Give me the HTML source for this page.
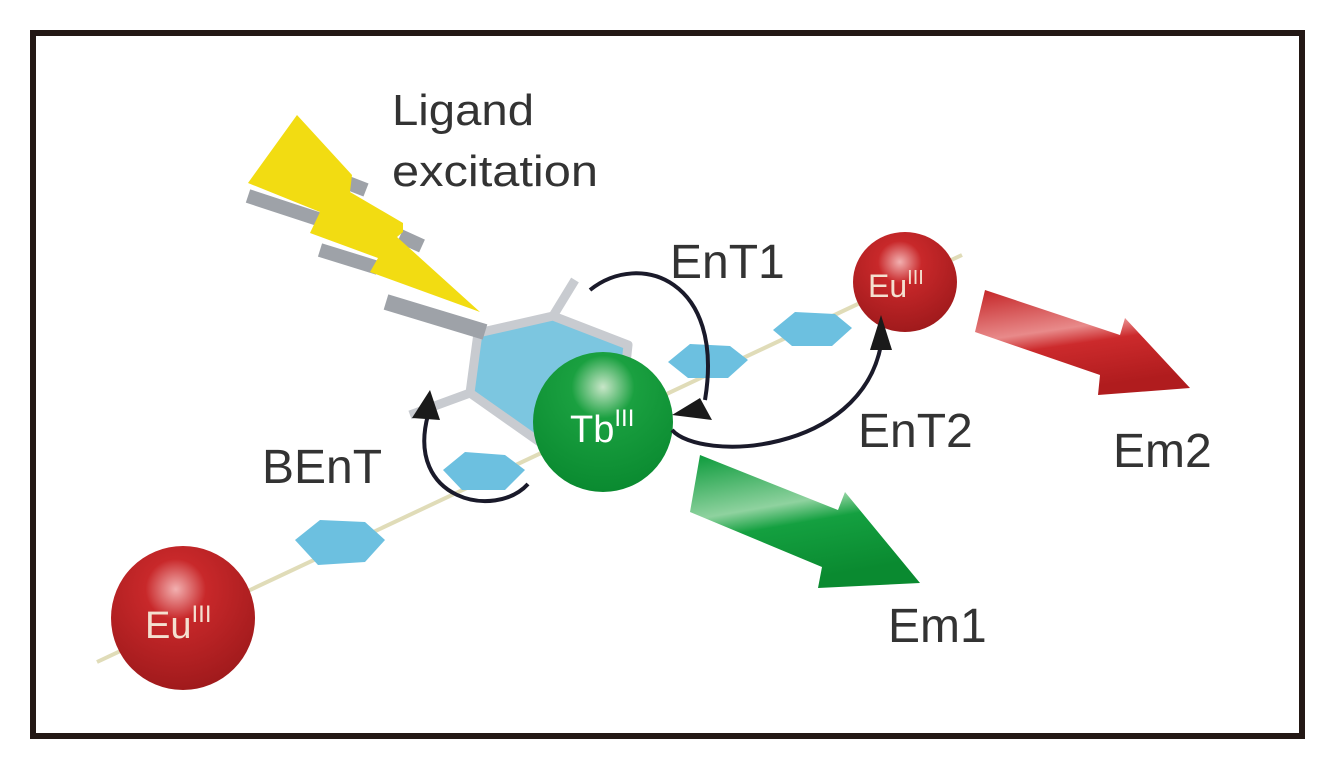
<!DOCTYPE html>
<html><head><meta charset="utf-8"><style>
html,body{margin:0;padding:0;background:#fff;}
svg{display:block;}
text{font-family:"Liberation Sans",sans-serif;fill:#333;}
</style></head><body>
<svg width="1335" height="769" viewBox="0 0 1335 769" xmlns="http://www.w3.org/2000/svg">
<defs>
<radialGradient id="gr" cx="0.45" cy="0.3" r="0.7">
<stop offset="0" stop-color="#f2b0b0"/><stop offset="0.3" stop-color="#c8282a"/><stop offset="1" stop-color="#a01a1c"/></radialGradient>
<radialGradient id="gg" cx="0.5" cy="0.25" r="0.75">
<stop offset="0" stop-color="#c8e6c8"/><stop offset="0.3" stop-color="#1aa040"/><stop offset="1" stop-color="#0a8a30"/></radialGradient>
<linearGradient id="ag" x1="0" y1="0" x2="0.3" y2="1">
<stop offset="0" stop-color="#0a9a3a"/><stop offset="0.45" stop-color="#8fd29f"/><stop offset="0.6" stop-color="#14a040"/><stop offset="1" stop-color="#0a8a30"/></linearGradient>
<linearGradient id="ar" x1="0" y1="0" x2="0.3" y2="1">
<stop offset="0" stop-color="#c42426"/><stop offset="0.45" stop-color="#e88a8a"/><stop offset="0.6" stop-color="#cc2a2c"/><stop offset="1" stop-color="#b01c1e"/></linearGradient>
</defs>
<rect x="33" y="33" width="1269" height="703" fill="#fff" stroke="#231815" stroke-width="6"/>

<!-- ligand line -->
<line x1="97" y1="662" x2="962" y2="255" stroke="#e0dcb8" stroke-width="4"/>

<!-- big ring -->
<polygon points="478,333 553,316 628,345 620,420 548,448 470,393" fill="#7cc6e0" stroke="#c8cbd0" stroke-width="9" stroke-linejoin="round"/>
<line x1="553" y1="316" x2="575" y2="280" stroke="#c8cbd0" stroke-width="9"/>
<line x1="470" y1="393" x2="410" y2="415" stroke="#c8cbd0" stroke-width="9"/>

<!-- bolt gray bars -->
<g stroke="#9ea2a8" stroke-linecap="butt">
<line x1="248" y1="196" x2="318" y2="219" stroke-width="14"/>
<line x1="348" y1="183" x2="366" y2="190" stroke-width="14"/>
<line x1="320" y1="250" x2="378" y2="268" stroke-width="14"/>
<line x1="400" y1="236" x2="422" y2="246" stroke-width="14"/>
<line x1="386" y1="302" x2="485" y2="332" stroke-width="16"/>
</g>
<!-- bolt -->
<polygon points="297,115 352,175 350,192 403,223 403,232 397,237 480,312 370,272 378,258 310,233 320,212 248,183" fill="#f2dc12"/>

<!-- small hexagons -->
<g fill="#6cc0e0">
<polygon points="295,540 320,520 365,522 385,540 365,562 318,565"/>
<polygon points="443,470 465,452 505,455 525,470 505,490 462,490"/>
<polygon points="668,362 690,344 730,346 748,360 728,378 688,378"/>
<polygon points="773,330 795,312 835,314 852,328 832,346 792,346"/>
</g>

<!-- Em arrows -->
<polygon points="700,455 838,510 845,492 920,583 818,588 822,567 690,512" fill="url(#ag)"/>
<polygon points="985,290 1120,335 1125,318 1190,388 1098,395 1100,375 975,332" fill="url(#ar)"/>

<!-- spheres -->
<circle cx="183" cy="618" r="72" fill="url(#gr)"/>
<circle cx="603" cy="422" r="70" fill="url(#gg)"/>
<ellipse cx="905" cy="282" rx="52" ry="50" fill="url(#gr)"/>
<text x="145" y="638" font-size="38" style="fill:#f4e0d0">Eu<tspan font-size="24" dy="-16">III</tspan></text>
<text x="570" y="442" font-size="38" style="fill:#fff">Tb<tspan font-size="24" dy="-16">III</tspan></text>
<text x="868" y="297" font-size="32" style="fill:#f4e0d0">Eu<tspan font-size="20" dy="-13">III</tspan></text>

<!-- curved arrows -->
<g fill="none" stroke="#1a1a2a" stroke-width="4">
<path d="M590,290 C640,250 725,280 705,400"/>
<path d="M672,430 C700,462 860,455 881,345"/>
<path d="M528,484 C495,520 405,500 428,415"/>
</g>
<g fill="#1a1a1a">
<polygon points="672,415 700,398 712,420"/>
<polygon points="881,315 870,350 892,350"/>
<polygon points="430,390 412,418 440,420"/>
</g>

<!-- labels -->
<text x="392" y="125" font-size="44" textLength="142" lengthAdjust="spacingAndGlyphs">Ligand</text>
<text x="392" y="186" font-size="44" textLength="206" lengthAdjust="spacingAndGlyphs">excitation</text>
<text x="670" y="278" font-size="48">EnT1</text>
<text x="858" y="447" font-size="48">EnT2</text>
<text x="262" y="483" font-size="48">BEnT</text>
<text x="1113" y="467" font-size="48">Em2</text>
<text x="888" y="642" font-size="48">Em1</text>
</svg>
</body></html>
